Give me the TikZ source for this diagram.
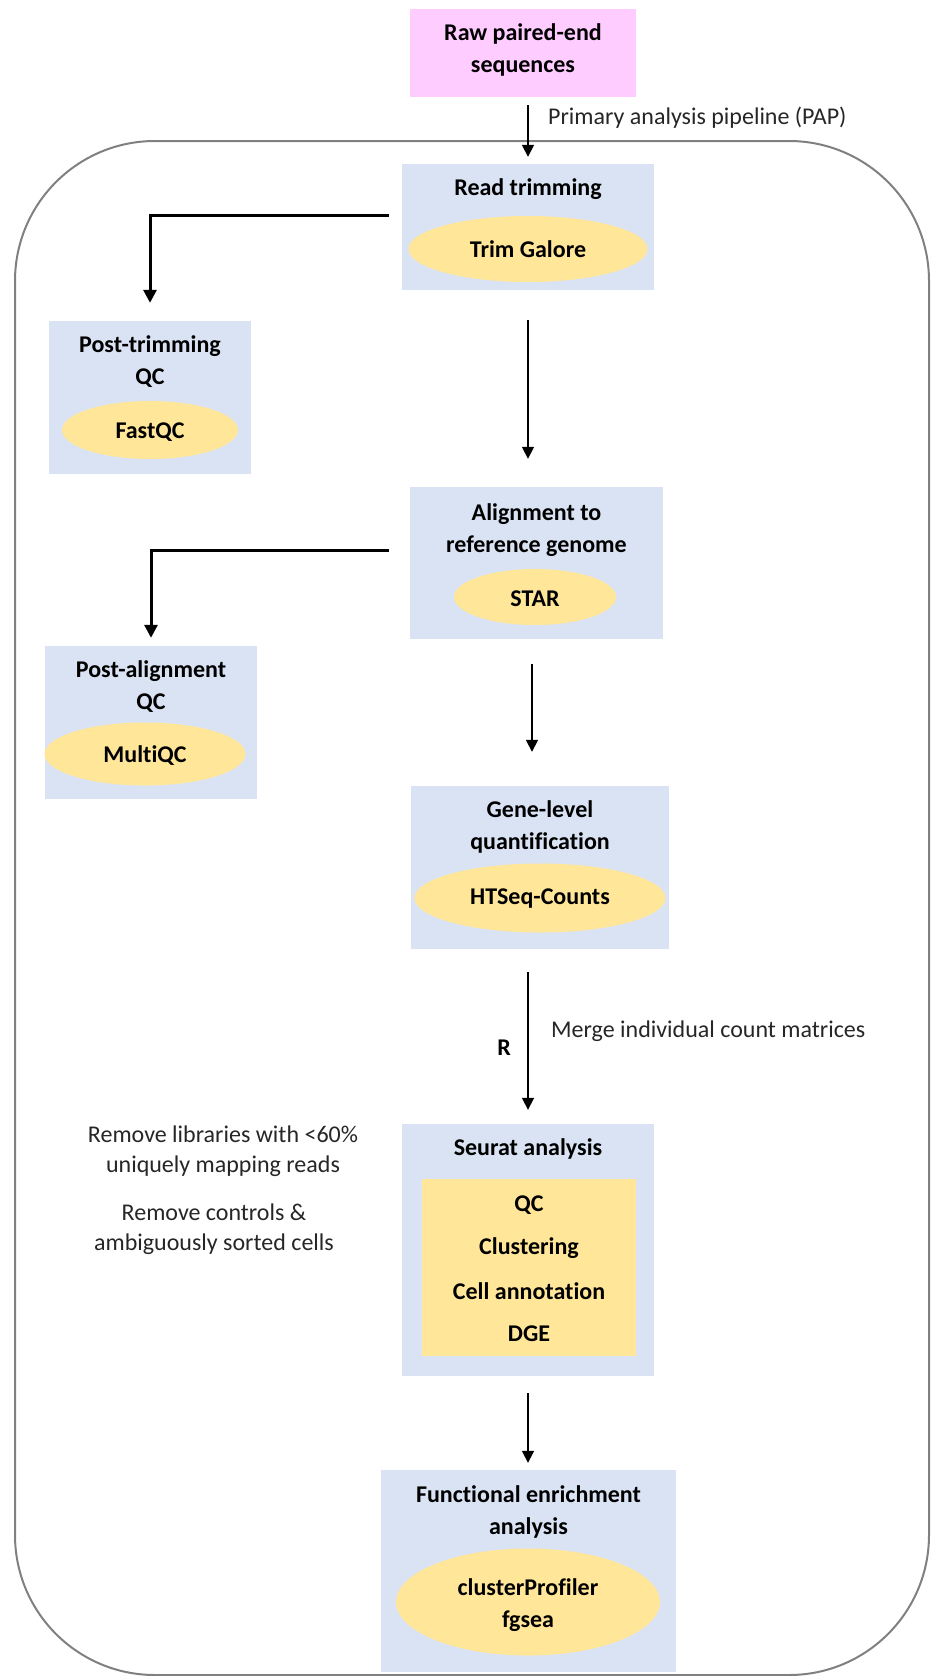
\documentclass[tikz,border=0pt]{standalone}
\usepackage{fontspec}
\setmainfont[Ligatures=NoCommon]{Carlito}
\usetikzlibrary{shapes.geometric,arrows.meta,calc}
\definecolor{boxblue}{HTML}{DAE3F3}
\definecolor{gold}{HTML}{FFE699}
\definecolor{pinkbox}{HTML}{FFCCFF}
\definecolor{framegray}{HTML}{808080}
\tikzset{
  stepbox/.style={fill=boxblue, inner sep=0pt, draw=none},
  tool/.style={ellipse, fill=gold, inner sep=0pt, draw=none},
  lbl/.style={font=\fontsize{24}{32}\selectfont\bfseries, align=center, inner sep=0pt},
  note/.style={font=\fontsize{24}{30}\selectfont, align=center, inner sep=0pt, text=black!85},
  flow/.style={-{Triangle[length=12pt,width=12pt]}, line width=1.7pt},
  branch/.style={-{Triangle[length=13pt,width=13pt]}, line width=3pt},
}
\begin{document}
\begin{tikzpicture}[x=1pt,y=-1pt]
\useasboundingbox (0,0) rectangle (931,1676);
\draw[framegray, line width=2pt, rounded corners=140pt] (15,141) rectangle (929,1675);

% raw input
\node[fill=pinkbox, inner sep=0pt, minimum width=226pt, minimum height=88pt] (raw) at (523,53) {};
\node[lbl] (rawt) at (523,50) {Raw paired-end\\sequences};

% read trimming
\node[stepbox, minimum width=252pt, minimum height=126pt] (rt) at (528,227) {};
\node[lbl] (rtt) at (528,189) {Read trimming};
\node[tool, minimum width=239pt, minimum height=66pt] (rte) at (528,249) {};
\node[lbl] (rtet) at (528,249) {Trim Galore};

% post-trimming QC
\node[stepbox, minimum width=202pt, minimum height=153pt] (ptqc) at (150,397.5) {};
\node[lbl] (ptqct) at (150,362) {Post-trimming\\QC};
\node[tool, minimum width=176pt, minimum height=58pt] (ptqce) at (150,430) {};
\node[lbl] (ptqcet) at (150,432) {FastQC};

% alignment
\node[stepbox, minimum width=253pt, minimum height=152pt] (al) at (536.5,563) {};
\node[lbl] (alt) at (536.5,530) {Alignment to\\reference genome};
\node[tool, minimum width=162pt, minimum height=56pt] (ale) at (535,597) {};
\node[lbl] (alet) at (535,599) {STAR};

% post-alignment QC
\node[stepbox, minimum width=212pt, minimum height=153pt] (paqc) at (151,722.5) {};
\node[lbl] (paqct) at (151,687) {Post-alignment\\QC};
\node[tool, minimum width=201pt, minimum height=63pt] (paqce) at (145,754) {};
\node[lbl] (paqcet) at (145,756) {MultiQC};

% gene-level quantification
\node[stepbox, minimum width=258pt, minimum height=163pt] (gene) at (540,867.5) {};
\node[lbl] (genet) at (540,827) {Gene-level\\quantification};
\node[tool, minimum width=251pt, minimum height=69pt] (genee) at (540,898) {};
\node[lbl] (geneet) at (540,899) {HTSeq-Counts};

% seurat
\node[stepbox, minimum width=252pt, minimum height=252pt] (seu) at (528,1250) {};
\node[lbl] (seut) at (528,1149) {Seurat analysis};
\node[fill=gold, inner sep=0pt, minimum width=214pt, minimum height=177pt] (seui) at (529,1267.5) {};
\node[lbl] (seu1) at (529,1205) {QC};
\node[lbl] (seu2) at (529,1248) {Clustering};
\node[lbl] (seu3) at (529,1291) {Cell annotation};
\node[lbl] (seu4) at (529,1334) {DGE};

% functional enrichment
\node[stepbox, minimum width=295pt, minimum height=202pt] (func) at (528.5,1571) {};
\node[lbl] (funct) at (528.5,1512) {Functional enrichment\\analysis};
\node[tool, minimum width=264pt, minimum height=107pt] (funce) at (528,1602) {};
\node[lbl] (funcet) at (528,1605) {clusterProfiler\\fgsea};

% notes
\node[note, anchor=west] (pap) at (548,118) {Primary analysis pipeline (PAP)};
\node[note, anchor=west] (merge) at (551,1031) {Merge individual count matrices};
\node[lbl] (rlbl) at (504,1048) {R};
\node[note] (rm1) at (223,1151) {Remove libraries with <60\%\\uniquely mapping reads};
\node[note] (rm2) at (214,1229) {Remove controls \&\\ambiguously sorted cells};

% connectors
\draw[flow, shorten <=8pt, shorten >=7pt] (rt.north |- raw.south) -- (rt.north);
\draw[flow, shorten <=30pt, shorten >=28pt] (rt.south) -- (rt.south |- al.north);
\draw[flow, shorten <=25pt, shorten >=34pt] ([xshift=-4.5pt]al.south) -- ([xshift=-4.5pt]al.south |- gene.north);
\draw[flow, shorten <=23pt, shorten >=14pt] (seu.north |- gene.south) -- (seu.north);
\draw[flow, shorten <=17pt, shorten >=7pt] (seu.south) -- (seu.south |- func.north);
\draw[branch, shorten <=13pt, shorten >=18pt] ([yshift=12pt]rt.west) -| (ptqc.north);
\draw[branch, shorten <=21pt, shorten >=8pt] ([yshift=13pt]al.west) -| (paqc.north);
\end{tikzpicture}
\end{document}
